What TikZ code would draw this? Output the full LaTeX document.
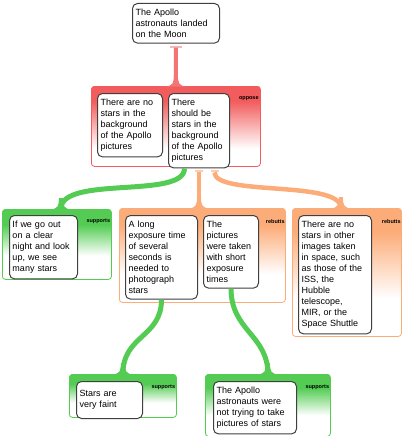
\documentclass[tikz,border=0pt]{standalone}
\usepackage{fontspec}
\setmainfont{Liberation Sans}
\usetikzlibrary{positioning,calc}

\definecolor{oppred}{RGB}{242,92,92}
\definecolor{supgreen}{RGB}{84,204,84}
\definecolor{rebora}{RGB}{252,172,120}

\pgfdeclareverticalshading{redfade}{100bp}{color(0bp)=(white); color(36bp)=(white); color(66bp)=(oppred); color(100bp)=(oppred)}
\pgfdeclareverticalshading{greenfade}{100bp}{color(0bp)=(white); color(42bp)=(white); color(64bp)=(supgreen); color(100bp)=(supgreen)}
\pgfdeclareverticalshading{orangefade}{100bp}{color(0bp)=(white); color(40bp)=(white); color(66bp)=(rebora); color(100bp)=(rebora)}

% widening foot of a stem where it meets a group
\newcommand{\flare}[2]{\fill[#1] ($(#2)+(-11,0.5)$) .. controls ($(#2)+(-3,0)$) and ($(#2)+(-2,-3)$) .. ($(#2)+(-2,-11)$) -- ($(#2)+(2,-11)$) .. controls ($(#2)+(2,-3)$) and ($(#2)+(3,0)$) .. ($(#2)+(11,0.5)$) -- cycle;}

\begin{document}
\begin{tikzpicture}[x=1pt, y=-1pt,
    claim/.style={draw=black!75, fill=white, line width=1pt, rounded corners=5pt, anchor=north west,
        align=left, inner xsep=3pt, inner ysep=5.5pt, font=\fontsize{9}{11}\selectfont},
    grp/.style={draw=#1, line width=0.8pt, rounded corners=3pt, anchor=north west, inner sep=0pt},
    tag/.style={anchor=north east, inner sep=0pt, font=\fontsize{5.5}{6}\selectfont\bfseries},
    stem/.style={draw=#1, line width=4.5pt, line cap=butt}]
    \useasboundingbox (0,0) rectangle (402,436);

    % --- groups ---
    \node[grp=oppred, shading=redfade, minimum width=169pt, minimum height=80pt] (opp) at (91,86) {};
    \node[grp=supgreen, shading=greenfade, minimum width=109pt, minimum height=70pt] (sup1) at (2,209) {};
    \node[grp=rebora, shading=orangefade, minimum width=166pt, minimum height=94pt] (reb1) at (119,208) {};
    \node[grp=rebora, shading=orangefade, minimum width=109pt, minimum height=128pt] (reb2) at (292,208) {};
    \node[grp=supgreen, shading=greenfade, minimum width=107pt, minimum height=43pt] (sup2) at (69,374) {};
    \node[grp=supgreen, shading=greenfade, minimum width=125pt, minimum height=62pt] (sup3) at (205,374) {};

    \node[tag] (toppose) at ([xshift=-2pt,yshift=-10pt]opp.north east) {oppose};
    \node[tag] (tsup1) at ([xshift=-1.5pt,yshift=-10pt]sup1.north east) {supports};
    \node[tag] (treb1) at ([xshift=-1pt,yshift=-11pt]reb1.north east) {rebutts};
    \node[tag] (treb2) at ([xshift=-1pt,yshift=-11pt]reb2.north east) {rebutts};
    \node[tag] (tsup2) at ([xshift=-1.5pt,yshift=-11pt]sup2.north east) {supports};
    \node[tag] (tsup3) at ([xshift=-1.5pt,yshift=-11pt]sup3.north east) {supports};

    % --- claims ---
    \node[claim, text width=81pt] (moon) at (132,3) {The Apollo\\astronauts landed\\on the Moon};
    \node[claim, text width=59pt] (nostars) at (97,93) {There are no\\stars in the\\background\\of the Apollo\\pictures};
    \node[claim, text width=55pt] (should) at (168,93) {There\\should be\\stars in the\\background\\of the Apollo\\pictures};
    \node[claim, text width=62pt] (clear) at (9,215) {If we go out\\on a clear\\night and look\\up, we see\\many stars};
    \node[claim, text width=66pt] (expo) at (125,215) {A long\\exposure time\\of several\\seconds is\\needed to\\photograph\\stars};
    \node[claim, text width=49pt] (short) at (203,215) {The\\pictures\\were taken\\with short\\exposure\\times};
    \node[claim, text width=67pt] (other) at (298,215) {There are no\\stars in other\\images taken\\in space, such\\as those of the\\ISS, the\\Hubble\\telescope,\\MIR, or the\\Space Shuttle};
    \node[claim, text width=60pt, minimum height=37pt] (faint) at (76,381) {Stars are\\very faint};
    \node[claim, text width=77pt] (nottry) at (213,381) {The Apollo\\astronauts were\\not trying to take\\pictures of stars};

    % --- connectors ---
    \fill[oppred!45] ([xshift=-6pt,yshift=-2pt]moon.south) rectangle ([xshift=6pt,yshift=-4pt]moon.south);
    \draw[stem=oppred!85, line width=4pt] ([yshift=-4pt]moon.south) -- (opp.north);
    \flare{oppred!85}{opp.north}

    \coordinate (gfoot) at ([xshift=4pt]sup1.north);
    \draw[stem=supgreen, line width=5pt] ([xshift=-14.5pt]should.south) .. controls +(0,31) and +(0,-34) .. (gfoot);
    \flare{supgreen}{gfoot}

    \fill[rebora!60] ([xshift=-4pt,yshift=-2pt]should.south) rectangle ([xshift=4pt,yshift=-4pt]should.south);
    \coordinate (ofoot1) at (should.south |- reb1.north);
    \draw[stem=rebora] ([yshift=-4pt]should.south) -- (ofoot1);
    \flare{rebora}{ofoot1}

    \fill[rebora!60] ([xshift=11.5pt,yshift=-2pt]should.south) rectangle ([xshift=19.5pt,yshift=-4pt]should.south);
    \coordinate (ofoot2) at ([xshift=-6pt]reb2.north);
    \draw[stem=rebora] ([xshift=15.5pt,yshift=-4pt]should.south) .. controls +(0,24) and +(0,-28) .. (ofoot2);
    \flare{rebora}{ofoot2}

    \draw[stem=supgreen, line width=5pt] (expo.south) .. controls +(0,38) and +(0,-39) .. (sup2.north);
    \flare{supgreen}{sup2.north}

    \draw[stem=supgreen, line width=5pt] (short.south) .. controls +(0,42) and +(0,-39) .. (sup3.north);
    \flare{supgreen}{sup3.north}
\end{tikzpicture}
\end{document}
